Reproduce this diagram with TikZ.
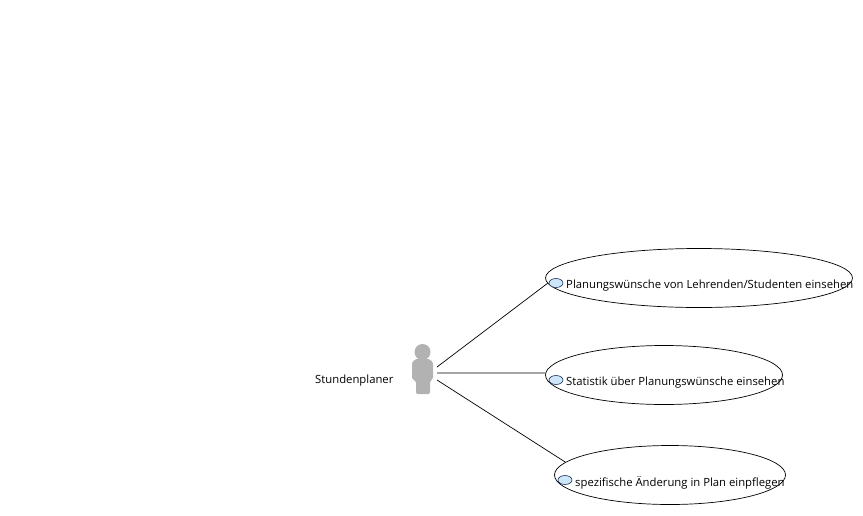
\documentclass[tikz,border=0pt]{standalone}
\usepackage{fontspec}
\setmainfont{Open Sans}
\usetikzlibrary{shapes.geometric}
\definecolor{iconfill}{RGB}{205,230,250}
\definecolor{iconline}{RGB}{30,50,90}
\tikzset{
  usecase/.style={draw=black,ellipse,inner sep=0pt,line width=0.7pt,fill=white},
  ucicon/.style={draw=iconline,fill=iconfill,ellipse,inner sep=0pt,minimum width=14pt,minimum height=9pt,line width=0.6pt},
  lbl/.style={anchor=west,inner sep=0pt,font=\fontsize{11.3}{13}\selectfont,text=black},
  assoc/.style={draw=black,line width=0.7pt},
  actorpart/.style={fill=black!30,draw=none}
}
\begin{document}
\begin{tikzpicture}[x=1pt,y=-1pt]
\useasboundingbox (0,0) rectangle (863,515);
\node[usecase,minimum width=307pt,minimum height=59pt] (uc1) at (699,278) {};
\node[usecase,minimum width=237pt,minimum height=59pt] (uc2) at (664,375) {};
\node[usecase,minimum width=231pt,minimum height=59pt] (uc3) at (670,475) {};
\node[ucicon] (i1) at (556,283) {};
\node[ucicon] (i2) at (556,380) {};
\node[ucicon] (i3) at (565,480) {};
\node[lbl] (t1) at (566,285.5) {Planungswünsche von Lehrenden/Studenten einsehen};
\node[lbl] (t2) at (566,382.5) {Statistik über Planungswünsche einsehen};
\node[lbl] (t3) at (575,482.5) {spezifische Änderung in Plan einpflegen};
\node[lbl] (t0) at (315,381) {Stundenplaner};
% actor
\node[actorpart,circle,minimum size=16pt,inner sep=0pt] (head) at (422.5,352) {};
\fill[actorpart,rounded corners=1.5pt] (412,362) -- (417,358.5) -- (428,358.5) -- (433,362) -- (433,379) -- (430,381) -- (430,394) -- (416,394) -- (416,381) -- (412,379) -- cycle;
\coordinate (a1) at (437,367);
\coordinate (a2) at (437,373);
\coordinate (a3) at (437,380);
\draw[assoc] (a1) -- (uc1.182.7);
\draw[assoc] (a2) -- (uc2.179);
\draw[assoc] (a3) -- (uc3.173.5);
\end{tikzpicture}
\end{document}
